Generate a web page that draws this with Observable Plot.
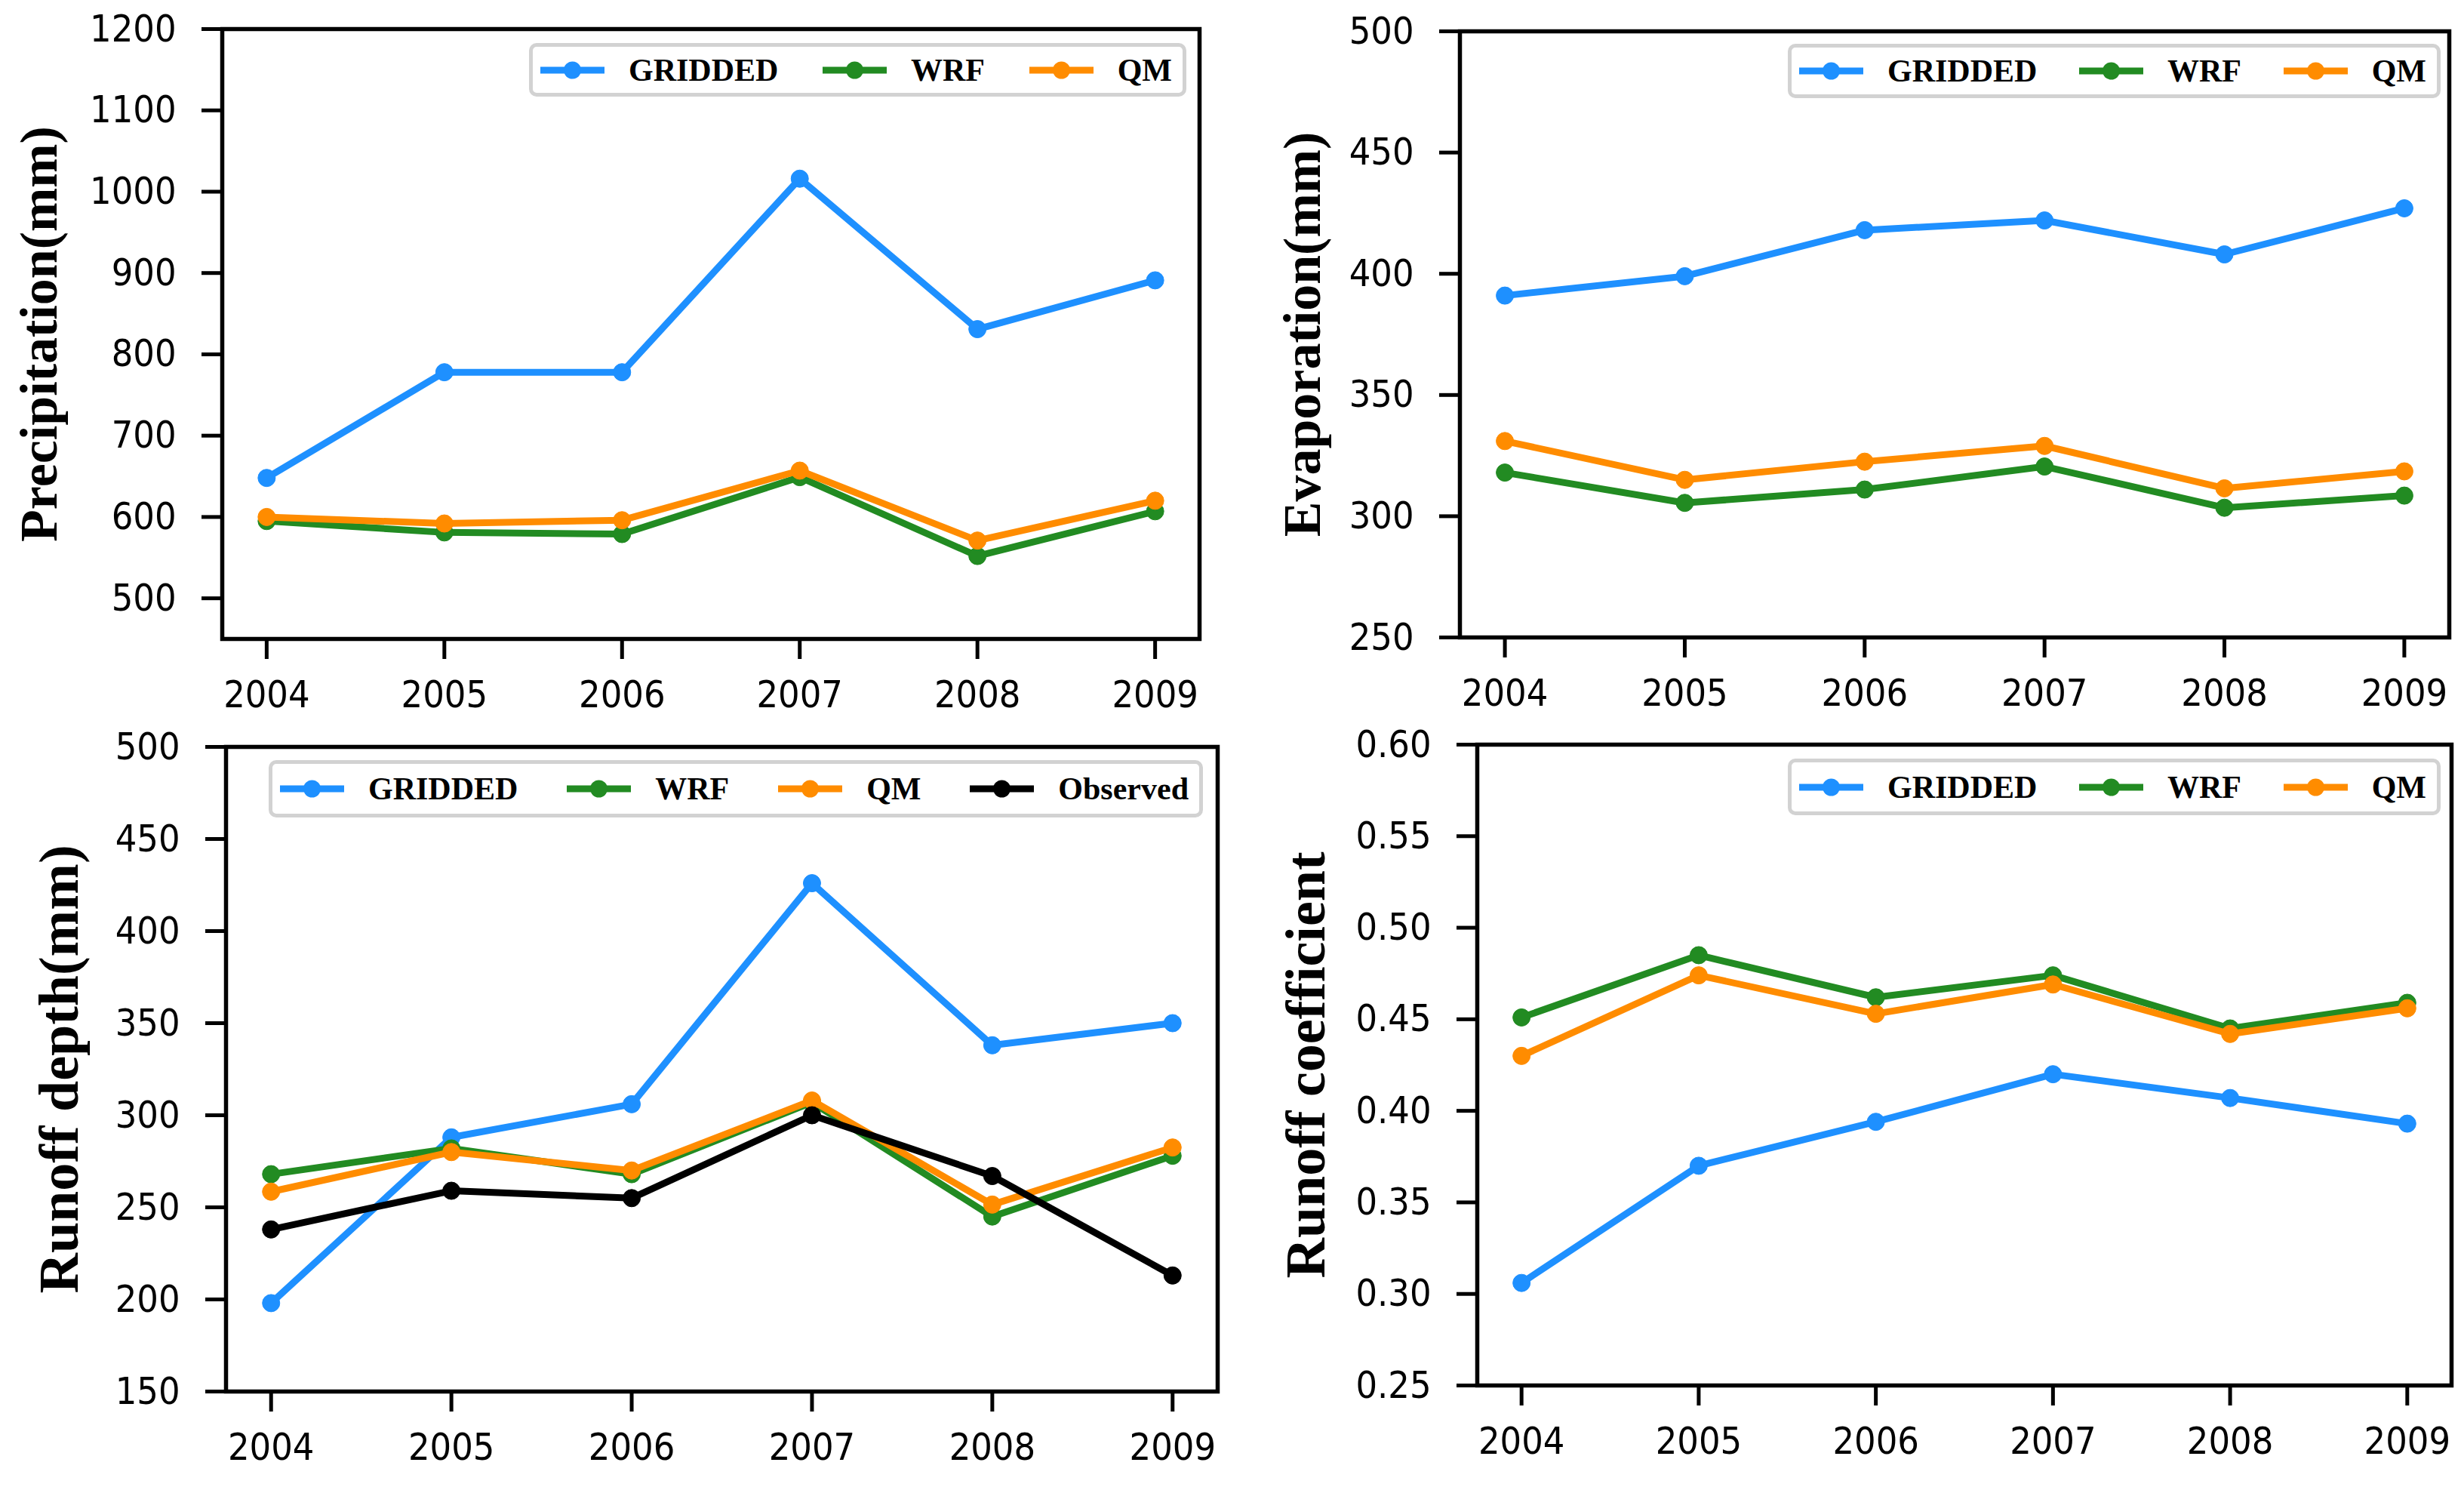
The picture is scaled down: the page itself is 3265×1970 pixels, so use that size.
<!DOCTYPE html>
<html>
<head>
<meta charset="utf-8">
<script src="https://cdn.jsdelivr.net/npm/d3@7"></script>
<script src="https://cdn.jsdelivr.net/npm/@observablehq/plot@0.6"></script>
<style>
  html, body { margin: 0; padding: 0; background: #fff; }
  #fig { position: relative; width: 3265px; height: 1970px; background: #fff; overflow: hidden; }
  .panel { position: absolute; }
  .legend {
    position: absolute; box-sizing: border-box; background: #fff;
    border: 5px solid #d2d2d2; border-radius: 10px;
    display: flex; align-items: center; justify-content: space-between;
    padding: 0 14px 0 10px;
  }
  .item { display: flex; align-items: center; }
  .item span {
    font-family: "Liberation Serif", "Times New Roman", serif; font-weight: bold;
    font-size: 42px; color: #000; margin-left: 32px; white-space: nowrap;
  }
</style>
</head>
<body>
<div id="fig"></div>
<script>
// ---------- data ----------
const years = [2004, 2005, 2006, 2007, 2008, 2009];
const seriesNames = ["GRIDDED", "WRF", "QM", "Observed"];
const seriesColors = ["#1e90ff", "#228b22", "#ff8c00", "#000000"];

const precipGridded = [648, 778, 778, 1016, 831, 891];
const precipWRF     = [595, 581, 579, 649, 552, 607];
const precipQM      = [600, 592, 596, 657, 571, 620];

const evapGridded = [391, 399, 418, 422, 408, 427];
const evapWRF     = [318, 305.5, 311, 320.5, 303.5, 308.5];
const evapQM      = [331, 315, 322.5, 329, 311.5, 318.5];

const runoffGridded  = [198, 288, 306, 426, 338, 350];
const runoffWRF      = [268, 282, 268, 307, 245, 278];
const runoffQM       = [258.5, 280, 270, 308, 251.5, 282.5];
const runoffObserved = [238, 259, 255, 300, 267, 213];

const coefGridded = [0.306, 0.370, 0.394, 0.420, 0.407, 0.393];
const coefWRF     = [0.451, 0.485, 0.462, 0.474, 0.445, 0.459];
const coefQM      = [0.430, 0.474, 0.453, 0.469, 0.442, 0.456];

const precipTicks = [500, 600, 700, 800, 900, 1000, 1100, 1200];
const evapTicks = [250, 300, 350, 400, 450, 500];
const runoffTicks = [150, 200, 250, 300, 350, 400, 450, 500];
const coefTicks = [0.25, 0.30, 0.35, 0.40, 0.45, 0.50, 0.55, 0.60];

// ---------- drawing ----------
const tickFont = '"DejaVu Sans Condensed", "DejaVu Sans", sans-serif';
const fig = document.getElementById("fig");

function panel(cfg) {
  const marks = [];
  cfg.series.forEach((vals, i) => {
    const data = years.map((yr, j) => ({year: yr, value: vals[j]}));
    const color = seriesColors[i];
    marks.push(Plot.line(data, {x: "year", y: "value", stroke: color, strokeWidth: 9}));
    marks.push(Plot.dot(data, {x: "year", y: "value", fill: color, stroke: color, strokeWidth: 1, r: 11.5}));
  });
  const chart = Plot.plot({
    width: cfg.w, height: cfg.h,
    marginLeft: cfg.ml, marginRight: cfg.mr, marginTop: cfg.mt, marginBottom: cfg.mb,
    style: {background: "transparent", color: "#000", fontFamily: tickFont, fontSize: "50px", overflow: "visible"},
    x: {domain: [2003.75, 2009.25]},
    y: {domain: cfg.domain},
    marks: [
      Plot.axisX({ticks: years, tickFormat: d => String(d), tickSize: 27, tickPadding: 28,
                  strokeWidth: 5, fontSize: 50, fontFamily: tickFont, label: null}),
      Plot.axisY({ticks: cfg.ticks, tickFormat: cfg.fmt, tickSize: 27, tickPadding: 34,
                  strokeWidth: 5, fontSize: 50, fontFamily: tickFont, label: null}),
      ...marks,
      Plot.frame({stroke: "#000", strokeWidth: 5.5}),
      Plot.text([cfg.label], {frameAnchor: "left", rotate: -90, dx: cfg.labelDx, text: d => d,
                  textAnchor: "middle", lineAnchor: "middle",
                  fontFamily: '"Liberation Serif", "Times New Roman", serif', fontWeight: "bold",
                  fontSize: cfg.labelSize, fill: "#000"})
    ]
  });
  const div = document.createElement("div");
  div.className = "panel";
  div.style.left = cfg.left + "px";
  div.style.top = cfg.top + "px";
  div.style.width = cfg.w + "px";
  div.style.height = cfg.h + "px";
  div.appendChild(chart);
  fig.appendChild(div);

  // legend
  const lg = document.createElement("div");
  lg.className = "legend";
  Object.assign(lg.style, cfg.legend);
  cfg.series.forEach((_, i) => {
    const it = document.createElement("div");
    it.className = "item";
    const c = seriesColors[i];
    it.innerHTML = `<svg width="85" height="26" viewBox="0 0 85 26"><line x1="0" y1="13" x2="85" y2="13" stroke="${c}" stroke-width="9"/><circle cx="42.5" cy="13" r="11.5" fill="${c}"/></svg><span>${seriesNames[i]}</span>`;
    lg.appendChild(it);
  });
  fig.appendChild(lg);
}

panel({left: 0, top: 0, w: 1640, h: 960, ml: 294, mr: 51, mt: 38, mb: 114,
  domain: [450, 1200], ticks: precipTicks, fmt: d => String(d),
  series: [precipGridded, precipWRF, precipQM],
  label: "Precipitation(mm)", labelDx: -242, labelSize: 70,
  legend: {left: "701px", top: "57px", width: "871px", height: "71px"}});

panel({left: 1640, top: 0, w: 1625, h: 960, ml: 294, mr: 20, mt: 41, mb: 116,
  domain: [250, 500], ticks: evapTicks, fmt: d => String(d),
  series: [evapGridded, evapWRF, evapQM],
  label: "Evaporation(mm)", labelDx: -208, labelSize: 70,
  legend: {left: "2369px", top: "58px", width: "865px", height: "72px"}});

panel({left: 0, top: 960, w: 1640, h: 1010, ml: 299, mr: 27, mt: 29, mb: 127,
  domain: [150, 500], ticks: runoffTicks, fmt: d => String(d),
  series: [runoffGridded, runoffWRF, runoffQM, runoffObserved],
  label: "Runoff depth(mm)", labelDx: -220, labelSize: 74,
  legend: {left: "356px", top: "1007px", width: "1238px", height: "76px"}});

panel({left: 1640, top: 960, w: 1625, h: 1010, ml: 317, mr: 17, mt: 26, mb: 135,
  domain: [0.25, 0.60], ticks: coefTicks, fmt: d => d.toFixed(2),
  series: [coefGridded, coefWRF, coefQM],
  label: "Runoff coefficient", labelDx: -226, labelSize: 74,
  legend: {left: "2369px", top: "1005px", width: "865px", height: "75px"}});
</script>
</body>
</html>
